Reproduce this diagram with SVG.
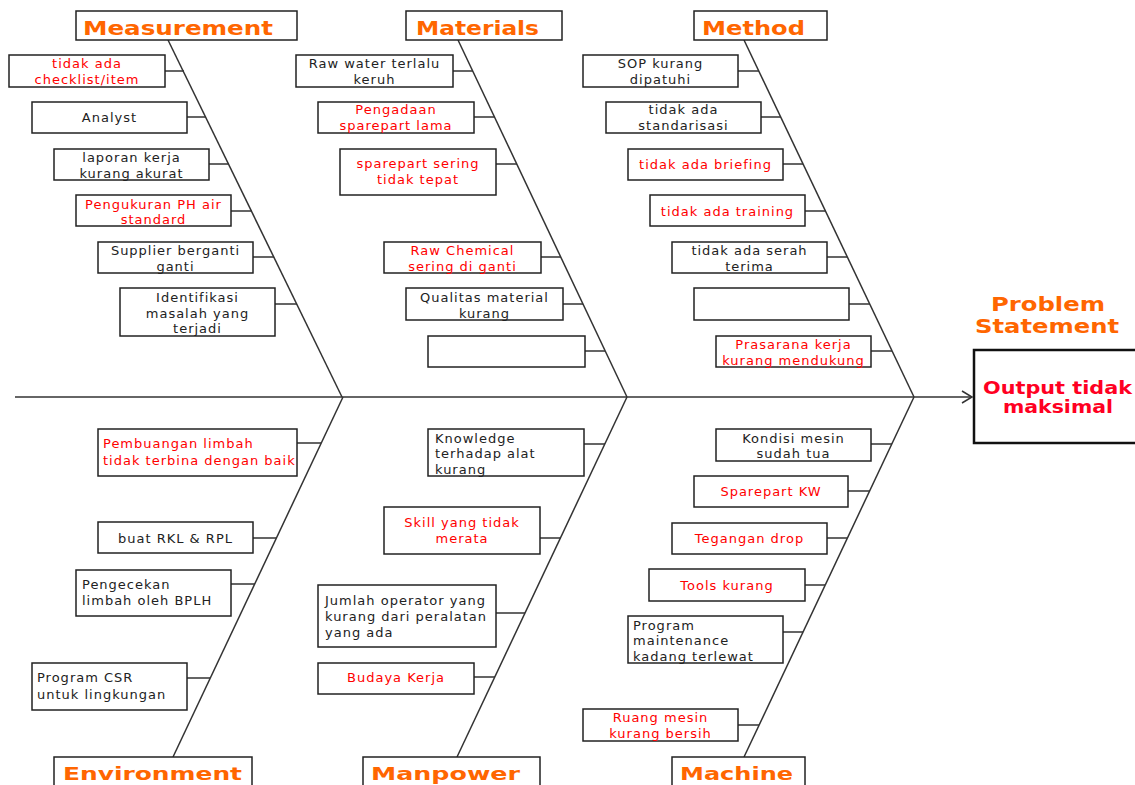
<svg xmlns="http://www.w3.org/2000/svg" width="1135" height="785" viewBox="0 0 1135 785">
<style>
.bg{fill:#fff}
.box{fill:#fff;stroke:#222;stroke-width:1.5}
.ln{stroke:#333;stroke-width:1.5;fill:none}
.t{font-family:'DejaVu Sans',Verdana,sans-serif;font-size:13px;letter-spacing:1px}
.r{fill:#ff0000}
.k{fill:#222}
.c{text-anchor:middle}
.cat{font-family:'DejaVu Sans',Verdana,sans-serif;font-size:19px;font-weight:bold;fill:#ff6600}
.catb{font-family:'DejaVu Sans',Verdana,sans-serif;font-size:17px;font-weight:bold;fill:#ff6600}
.out{font-family:'DejaVu Sans',Verdana,sans-serif;font-size:17px;font-weight:bold;fill:#ff0022}
</style>
<rect class="bg" x="0" y="0" width="1135" height="785"/>
<g id="connectors">
<line class="ln" x1="15" y1="397" x2="971" y2="397"/>
<polyline class="ln" points="962,391 972,397 962,403"/>
<line class="ln" x1="168" y1="40" x2="342" y2="397"/>
<line class="ln" x1="458" y1="40" x2="627" y2="397"/>
<line class="ln" x1="744" y1="40" x2="914" y2="397"/>
<line class="ln" x1="343" y1="397" x2="173" y2="757"/>
<line class="ln" x1="627" y1="397" x2="457" y2="757"/>
<line class="ln" x1="914" y1="397" x2="744" y2="757"/>
<path class="ln" d="M165 71H184M187 117H206M209 164H229M231 211H252M253 257H274M275 304H297"/>
<path class="ln" d="M453 71H473M474 117H495M496 164H517M541 257H561M563 304H583M585 351H605"/>
<path class="ln" d="M738 71H759M761 117H781M783 164H803M805 211H826M827 257H847M849 304H870M871 351H892"/>
<path class="ln" d="M297 443H321M253 538H276M231 584H255M187 678H210"/>
<path class="ln" d="M584 444H605M540 538H561M496 613H525M474 677H495"/>
<path class="ln" d="M871 444H892M848 491H870M827 538H847M805 585H825M783 632H803M738 725H759"/>
</g>
<g id="cat-measurement"><rect class="box" x="76" y="11" width="221" height="29"/><text class="cat" x="83" y="35" textLength="190" lengthAdjust="spacingAndGlyphs">Measurement</text></g>
<g id="cat-materials"><rect class="box" x="406" y="11" width="156" height="29"/><text class="cat" x="416" y="35" textLength="123" lengthAdjust="spacingAndGlyphs">Materials</text></g>
<g id="cat-method"><rect class="box" x="694" y="11" width="133" height="29"/><text class="cat" x="702" y="35" textLength="103" lengthAdjust="spacingAndGlyphs">Method</text></g>
<g id="cat-environment"><rect class="box" x="54" y="757" width="198" height="40"/><text class="catb" x="63" y="780" textLength="179" lengthAdjust="spacingAndGlyphs">Environment</text></g>
<g id="cat-manpower"><rect class="box" x="363" y="757" width="177" height="40"/><text class="catb" x="371" y="780" textLength="149" lengthAdjust="spacingAndGlyphs">Manpower</text></g>
<g id="cat-machine"><rect class="box" x="672" y="757" width="133" height="40"/><text class="catb" x="680" y="780" textLength="113" lengthAdjust="spacingAndGlyphs">Machine</text></g>
<g id="problem">
<text class="cat" x="991" y="311" textLength="114" lengthAdjust="spacingAndGlyphs">Problem</text>
<text class="cat" x="975" y="333" textLength="144" lengthAdjust="spacingAndGlyphs">Statement</text>
<rect x="974" y="350" width="170" height="93" fill="#fff" stroke="#111" stroke-width="2.5"/>
<text class="out" x="983" y="394" textLength="149" lengthAdjust="spacingAndGlyphs">Output tidak</text>
<text class="out" x="1003" y="413" textLength="110" lengthAdjust="spacingAndGlyphs">maksimal</text>
</g>
<g id="m1"><rect class="box" x="9" y="55" width="156" height="32"/><text class="t r c" x="87"><tspan x="87" y="67.5">tidak ada</tspan><tspan x="87" y="83.5">checklist/item</tspan></text></g>
<g id="m2"><rect class="box" x="32" y="102" width="155" height="31"/><text class="t k c" x="109.5" y="121.5">Analyst</text></g>
<g id="m3"><rect class="box" x="54" y="149" width="155" height="31"/><text class="t k c"><tspan x="131.5" y="161.5">laporan kerja</tspan><tspan x="131.5" y="177.5">kurang akurat</tspan></text></g>
<g id="m4"><rect class="box" x="76" y="195" width="155" height="31"/><text class="t r c"><tspan x="153.5" y="208.5">Pengukuran PH air</tspan><tspan x="153.5" y="223.5">standard</tspan></text></g>
<g id="m5"><rect class="box" x="98" y="242" width="155" height="31"/><text class="t k c"><tspan x="175.5" y="254.5">Supplier berganti</tspan><tspan x="175.5" y="270.5">ganti</tspan></text></g>
<g id="m6"><rect class="box" x="120" y="288" width="155" height="48"/><text class="t k c"><tspan x="197.5" y="301.5">Identifikasi</tspan><tspan x="197.5" y="317.5">masalah yang</tspan><tspan x="197.5" y="332.5">terjadi</tspan></text></g>
<g id="mat1"><rect class="box" x="296" y="55" width="157" height="32"/><text class="t k c"><tspan x="374.5" y="67.5">Raw water terlalu</tspan><tspan x="374.5" y="83.5">keruh</tspan></text></g>
<g id="mat2"><rect class="box" x="318" y="102" width="156" height="31"/><text class="t r c"><tspan x="396" y="114">Pengadaan</tspan><tspan x="396" y="130">sparepart lama</tspan></text></g>
<g id="mat3"><rect class="box" x="340" y="149" width="156" height="46"/><text class="t r c"><tspan x="418" y="167.5">sparepart sering</tspan><tspan x="418" y="183.5">tidak tepat</tspan></text></g>
<g id="mat4"><rect class="box" x="384" y="242" width="157" height="31"/><text class="t r c"><tspan x="462.5" y="254.5">Raw Chemical</tspan><tspan x="462.5" y="270.5">sering di ganti</tspan></text></g>
<g id="mat5"><rect class="box" x="406" y="288" width="157" height="32"/><text class="t k c"><tspan x="484.5" y="301.5">Qualitas material</tspan><tspan x="484.5" y="317.5">kurang</tspan></text></g>
<g id="mat6"><rect class="box" x="428" y="336" width="157" height="31"/></g>
<g id="me1"><rect class="box" x="583" y="55" width="155" height="32"/><text class="t k c"><tspan x="660.5" y="67.5">SOP kurang</tspan><tspan x="660.5" y="83.5">dipatuhi</tspan></text></g>
<g id="me2"><rect class="box" x="606" y="102" width="155" height="31"/><text class="t k c"><tspan x="683.5" y="114">tidak ada</tspan><tspan x="683.5" y="130">standarisasi</tspan></text></g>
<g id="me3"><rect class="box" x="628" y="149" width="155" height="31"/><text class="t r c" x="705.5" y="168.5">tidak ada briefing</text></g>
<g id="me4"><rect class="box" x="650" y="195" width="155" height="31"/><text class="t r c" x="727.5" y="215.5">tidak ada training</text></g>
<g id="me5"><rect class="box" x="672" y="242" width="155" height="31"/><text class="t k c"><tspan x="749.5" y="254.5">tidak ada serah</tspan><tspan x="749.5" y="270.5">terima</tspan></text></g>
<g id="me6"><rect class="box" x="694" y="288" width="155" height="32"/></g>
<g id="me7"><rect class="box" x="716" y="336" width="155" height="31"/><text class="t r c"><tspan x="793.5" y="348.5">Prasarana kerja</tspan><tspan x="793.5" y="364.5">kurang mendukung</tspan></text></g>
<g id="e1"><rect class="box" x="98" y="429" width="199" height="47"/><text class="t r"><tspan x="103" y="447.5">Pembuangan limbah</tspan><tspan x="103" y="464.5">tidak terbina dengan baik</tspan></text></g>
<g id="e2"><rect class="box" x="98" y="522" width="155" height="31"/><text class="t k c" x="175.5" y="542.5">buat RKL &amp; RPL</text></g>
<g id="e3"><rect class="box" x="76" y="570" width="155" height="46"/><text class="t k"><tspan x="82" y="588.5">Pengecekan</tspan><tspan x="82" y="604.5">limbah oleh BPLH</tspan></text></g>
<g id="e4"><rect class="box" x="32" y="663" width="155" height="47"/><text class="t k"><tspan x="37" y="681.5">Program CSR</tspan><tspan x="37" y="698.5">untuk lingkungan</tspan></text></g>
<g id="p1"><rect class="box" x="428" y="429" width="156" height="47"/><text class="t k"><tspan x="435" y="442.5">Knowledge</tspan><tspan x="435" y="457.5">terhadap alat</tspan><tspan x="435" y="473.5">kurang</tspan></text></g>
<g id="p2"><rect class="box" x="384" y="507" width="156" height="47"/><text class="t r c"><tspan x="462" y="526.5">Skill yang tidak</tspan><tspan x="462" y="542.5">merata</tspan></text></g>
<g id="p3"><rect class="box" x="318" y="585" width="178" height="62"/><text class="t k"><tspan x="325" y="604.5">Jumlah operator yang</tspan><tspan x="325" y="620.5">kurang dari peralatan</tspan><tspan x="325" y="636.5">yang ada</tspan></text></g>
<g id="p4"><rect class="box" x="318" y="663" width="156" height="31"/><text class="t r c" x="396" y="681.5">Budaya Kerja</text></g>
<g id="ma1"><rect class="box" x="716" y="429" width="155" height="32"/><text class="t k c"><tspan x="793.5" y="442.5">Kondisi mesin</tspan><tspan x="793.5" y="457.5">sudah tua</tspan></text></g>
<g id="ma2"><rect class="box" x="694" y="476" width="154" height="31"/><text class="t r c" x="771" y="495.5">Sparepart KW</text></g>
<g id="ma3"><rect class="box" x="672" y="523" width="155" height="31"/><text class="t r c" x="749.5" y="542.5">Tegangan drop</text></g>
<g id="ma4"><rect class="box" x="649" y="569" width="156" height="32"/><text class="t r c" x="727" y="589.5">Tools kurang</text></g>
<g id="ma5"><rect class="box" x="628" y="616" width="155" height="47"/><text class="t k"><tspan x="633" y="629.5">Program</tspan><tspan x="633" y="644.5">maintenance</tspan><tspan x="633" y="660.5">kadang terlewat</tspan></text></g>
<g id="ma6"><rect class="box" x="583" y="709" width="155" height="32"/><text class="t r c"><tspan x="660.5" y="722">Ruang mesin</tspan><tspan x="660.5" y="737.5">kurang bersih</tspan></text></g>
</svg>
